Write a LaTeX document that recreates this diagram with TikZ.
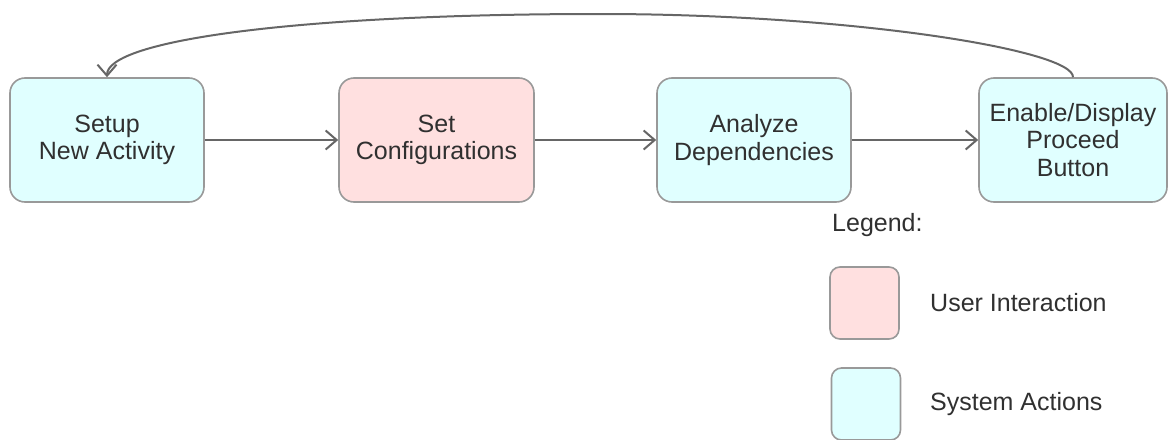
\documentclass[tikz,border=0pt]{standalone}
\usepackage{fontspec}
\setmainfont{Liberation Sans}
\usetikzlibrary{arrows.meta}
\definecolor{userfill}{HTML}{FFE0E0}
\definecolor{sysfill}{HTML}{E0FFFF}
\definecolor{boxline}{HTML}{999999}
\definecolor{flowline}{HTML}{666666}
\definecolor{txt}{HTML}{303030}
\tikzset{
  stepbox/.style={draw=boxline, line width=1.6pt, rounded corners=15pt,
    minimum height=124pt, align=center, inner sep=0pt, text=txt,
    font=\fontsize{25}{27.5}\selectfont},
  userbox/.style={stepbox, fill=userfill},
  sysbox/.style={stepbox, fill=sysfill},
  keybox/.style={draw=boxline, line width=1.6pt, rounded corners=10pt,
    minimum width=69pt, minimum height=72pt, inner sep=0pt},
  keytext/.style={anchor=west, inner sep=0pt, text=txt,
    font=\fontsize{25}{27.5}\selectfont},
  flow/.style={draw=flowline, line width=2pt,
    -{Straight Barb[length=11pt, width=19pt, line width=2pt]}}
}
\begin{document}
\begin{tikzpicture}[x=1pt, y=-1pt]
\useasboundingbox (0,0) rectangle (1169,439);

% process steps
\node[sysbox, minimum width=194pt] (setup) at (107,140) {Setup\\New Activity};
\node[userbox, minimum width=195pt] (config) at (436.5,140) {Set\\Configurations};
\node[sysbox, minimum width=194pt] (analyze) at (754,140) {Analyze\\Dependencies};
\node[sysbox, minimum width=188pt] (proceed) at (1073,140) {Enable/Display\\Proceed\\Button};

% flow between steps
\draw[flow] (setup) -- (config);
\draw[flow] (config) -- (analyze);
\draw[flow] (analyze) -- (proceed);

% loop back to the first step
\coordinate (apex) at (600,14);
\draw[flow] (proceed.north) .. controls (1074,50) and (850,14) .. (apex)
  .. controls (300,14) and (107,40) .. (setup.north);

% legend
\node[keytext] (legendtitle) at (832,225) {Legend:};
\node[keybox, fill=userfill] (userkey) at (864.5,303) {};
\node[keytext] (userlabel) at (930,303) {User Interaction};
\node[keybox, fill=sysfill] (syskey) at (866,404) {};
\node[keytext] (syslabel) at (930,404) {System Actions};
\end{tikzpicture}
\end{document}
